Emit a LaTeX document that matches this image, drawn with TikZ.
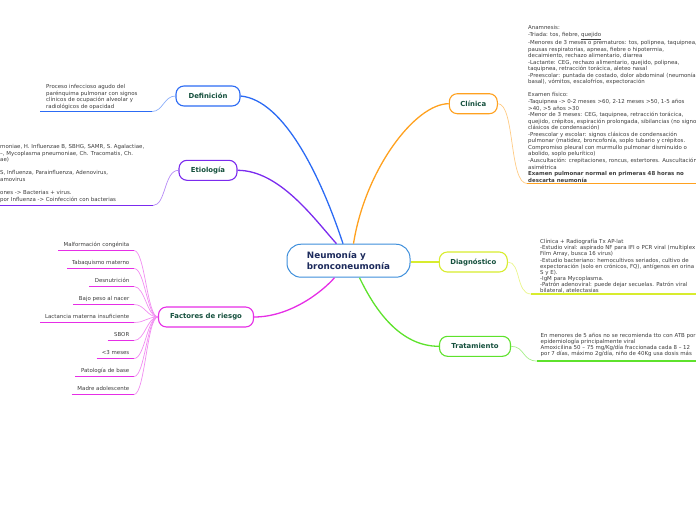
\documentclass[tikz,border=0pt]{standalone}
\usepackage{fontspec}
\setmainfont{DejaVu Sans}
\usetikzlibrary{calc}
\definecolor{cmain}{HTML}{3D8EDB}
\definecolor{cmaintext}{HTML}{1C2A5C}
\definecolor{ctopic}{HTML}{15503D}
\definecolor{cleaf}{HTML}{3C3C3C}
\definecolor{cdef}{HTML}{2C6BF4}
\definecolor{cet}{HTML}{7B2BEE}
\definecolor{cfr}{HTML}{E62EE6}
\definecolor{ccl}{HTML}{FFA11F}
\definecolor{cdg}{HTML}{D8EC2E}
\definecolor{ctr}{HTML}{5EE22C}
\tikzset{
 topic/.style={draw=#1, line width=1.1pt, rounded corners=8pt, fill=white, text=ctopic, font=\fontsize{6.9}{8}\selectfont\bfseries, inner sep=0pt, minimum height=20pt},
 mainline/.style={draw=#1, line width=1.3pt},
 twig/.style={draw=#1!55, line width=0.7pt},
 uline/.style={draw=#1, line width=1.6pt},
 leaftext/.style={inner sep=0pt, text=cleaf, font=\fontsize{5.45}{6.55}\selectfont, align=left, anchor=north west},
 itemtext/.style={inner sep=0pt, text=cleaf, font=\fontsize{5.45}{6.5}\selectfont, anchor=base east},
}
\begin{document}
\begin{tikzpicture}[x=1pt,y=-1pt]
\useasboundingbox (0,0) rectangle (696,520);
\clip (0,0) rectangle (696,520);

% central and topic nodes
\node[draw=cmain, line width=1pt, rounded corners=14pt, fill=white, minimum width=123pt, minimum height=33pt, inner sep=0pt, text=cmaintext, font=\fontsize{8.8}{11.5}\selectfont\bfseries, align=left] (c) at (348.5,260.7) {Neumonía y\\bronconeumonía};
\node[topic=cdef, minimum width=64pt] (de) at (208,96) {Definición};
\node[topic=cet, minimum width=58pt] (et) at (208,170.3) {Etiología};
\node[topic=cfr, minimum width=95pt] (fr) at (206,317) {Factores de riesgo};
\node[topic=ccl, minimum width=48pt] (cl) at (473.3,103.7) {Clínica};
\node[topic=cdg, minimum width=68pt] (dg) at (473.3,262) {Diagnóstico};
\node[topic=ctr, minimum width=71pt] (tr) at (475,346.3) {Tratamiento};

% main connectors
\draw[mainline=cdef] (de.east) .. controls (285,100) and (322,180) .. ($(c.north)+(-5.5,0)$);
\draw[mainline=cet] (et.east) .. controls (280,170.3) and (315,220) .. ($(c.north)+(-12,0)$);
\draw[mainline=ccl] (cl.west) .. controls (415,103.7) and (365,170) .. ($(c.north)+(5,0)$);
\draw[mainline=cfr] (fr.east) .. controls (290,317) and (322,292) .. ($(c.south)+(-14,0)$);
\draw[mainline=ctr] (tr.west) .. controls (400,346.3) and (375,310) .. ($(c.south)+(11,0)$);
\draw[mainline=cdg] (dg.west) -- (dg.west -| c.east);

% Definición
\node[leaftext, font=\fontsize{5.45}{6.7}\selectfont] (det) at (46,84.1) {Proceso infeccioso agudo del\\parénquima pulmonar con signos\\clínicos de ocupación alveolar y\\radiológicos de opacidad};
\coordinate (deu0) at (40,111.5);
\coordinate (deu1) at (152,111.5);
\draw[twig=cdef] (de.west) .. controls (164,96) and (163,111.5) .. (deu1);
\draw[uline=cdef] (deu0) -- (deu1);

% Etiología
\node[leaftext] (ett) at (0,144.4) {moniae, H. Influenzae B, SBHG, SAMR, S. Agalactiae,\\–, Mycoplasma pneumoniae, Ch. Tracomatis, Ch.\\ae)\\ \mbox{}\\S, Influenza, Parainfluenza, Adenovirus,\\amovirus\\ \mbox{}\\ones -> Bacterias + virus.\\por Influenza -> Coinfección con bacterias};
\coordinate (etu0) at (0,205.5);
\coordinate (etu1) at (153,205.5);
\draw[twig=cet] (et.west) .. controls (164,170.3) and (166,205.5) .. (etu1);
\draw[uline=cet] (etu0) -- (etu1);

% Clínica
\node[leaftext] (clt) at (528,25.4) {Anamnesis:\\-Triada: tos, fiebre, \underline{quejido}\\-Menores de 3 meses o prematuros: tos, polipnea, taquipnea,\\pausas respiratorias, apneas, fiebre o hipotermia,\\decaimiento, rechazo alimentario, diarrea\\-Lactante: CEG, rechazo alimentario, quejido, polipnea,\\taquipnea, retracción torácica, aleteo nasal\\-Preescolar: puntada de costado, dolor abdominal (neumonía\\basal), vómitos, escalofríos, expectoración\\ \mbox{}\\Examen físico:\\-Taquipnea -> 0-2 meses >60, 2-12 meses >50, 1-5 años\\>40, >5 años >30\\-Menor de 3 meses: CEG, taquipnea, retracción torácica,\\quejido, crépitos, espiración prolongada, sibilancias (no signos\\clásicos de condensación)\\-Preescolar y escolar: signos clásicos de condensación\\pulmonar (matidez, broncofonía, soplo tubario y crépitos.\\Compromiso pleural con murmullo pulmonar disminuido o\\abolido, soplo pelurítico)\\-Auscultación: crepitaciones, roncus, estertores. Auscultación\\asimétrica\\\textbf{Examen pulmonar normal en primeras 48 horas no}\\\textbf{descarta neumonía}};
\coordinate (clu0) at (527,183.5);
\coordinate (clu1) at (696,183.5);
\draw[twig=ccl] (cl.east) .. controls (515,103.7) and (509,183.5) .. (clu0);
\draw[uline=ccl] (clu0) -- (clu1);

% Diagnóstico
\node[leaftext, font=\fontsize{5.45}{6.1}\selectfont] (dgt) at (540,239.2) {Clínica + Radiografía Tx AP-lat\\-Estudio viral: aspirado NF para IFI o PCR viral (multiplex\\Film Array, busca 16 virus)\\-Estudio bacteriano: hemocultivos seriados, cultivo de\\expectoración (solo en crónicos, FQ), antígenos en orina\\S y E).\\-IgM para Mycoplasma.\\-Patrón adenoviral: puede dejar secuelas. Patrón viral\\bilateral, atelectasias};
\coordinate (dgu0) at (531,294);
\coordinate (dgu1) at (696,294);
\draw[twig=cdg] (dg.east) .. controls (521,262) and (516,294) .. (dgu0);
\draw[uline=cdg] (dgu0) -- (dgu1);

% Tratamiento
\node[leaftext, font=\fontsize{5.45}{6.0}\selectfont] (trt) at (540.5,333.4) {En menores de 5 años no se recomienda tto con ATB por\\epidemiología principalmente viral\\Amoxicilina 50 – 75 mg/Kg/día fraccionada cada 8 – 12\\por 7 días, máximo 2g/día, niño de 40Kg usa dosis más};
\coordinate (tru0) at (537,361);
\coordinate (tru1) at (696,361);
\draw[twig=ctr] (tr.east) .. controls (525,346.3) and (522,361) .. (tru0);
\draw[uline=ctr] (tru0) -- (tru1);

% Factores de riesgo
\foreach \k/\t/\s in {0/{Malformación congénita}/58, 1/{Tabaquismo materno}/67, 2/{Desnutrición}/89, 3/{Bajo peso al nacer}/73, 4/{Lactancia materna insuficiente}/40, 5/{SBOR}/107.7, 6/{<3 meses}/96.7, 7/{Patología de base}/75, 8/{Madre adolescente}/71.7}{
 \pgfmathsetmacro\yy{250.5+18*\k}
 \node[itemtext] (fi\k) at (129.5,\yy-3.6) {\t};
 \coordinate (fa\k) at (\s,\yy);
 \coordinate (fb\k) at (134,\yy);
 \draw[uline=cfr] (fa\k) -- (fb\k);
 \draw[twig=cfr] (fr.west) .. controls (147,317) and (145,\yy) .. (fb\k);
}
\end{tikzpicture}
\end{document}
